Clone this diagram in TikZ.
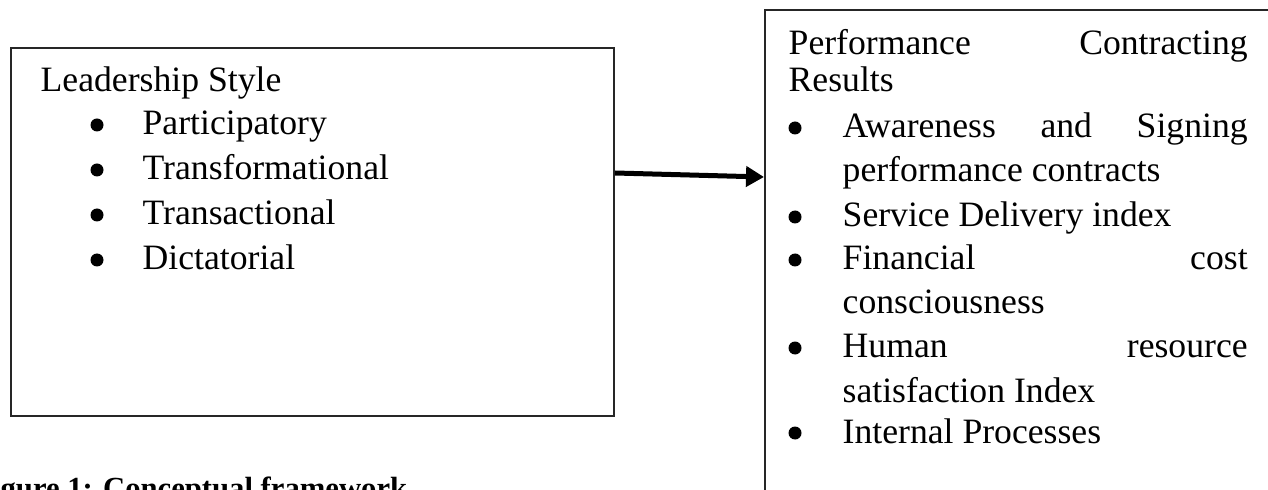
\documentclass[tikz,border=0pt]{standalone}
\usepackage{fontspec}
\setmainfont{Liberation Serif}
\usetikzlibrary{arrows.meta,positioning}

\begin{document}
\begin{tikzpicture}[x=0.3pt,y=-0.3pt,
    frame/.style={draw=black!85, line width=0.6pt, inner sep=0pt, anchor=north west},
    txt/.style={anchor=base west, inner sep=0pt, font=\fontsize{10.7}{13}\selectfont},
    blt/.style={circle, fill=black, inner sep=0pt, minimum size=3.9pt}]

    \useasboundingbox (0,0) rectangle (1268,490);
    \clip (0,0) rectangle (1268,490);

    % left box
    \node[frame, minimum width=180.9pt, minimum height=110.4pt] (lead) at (10,47) {};
    \node[txt] (leadtitle) at (40,92) {Leadership Style};
    \foreach \t [count=\i] in {Participatory,Transformational,Transactional,Dictatorial} {
        \node[blt] (lb\i) at (97,{125+45*(\i-1)}) {};
        \node[txt] (li\i) at (142,{135+45*(\i-1)}) {\t};
    }

    % right box (runs off the page)
    \node[frame, minimum width=165pt, minimum height=165pt] (res) at (764,9) {};
    \node[txt] (restitle) at (788,55) {\makebox[137.7pt][s]{Performance Contracting}};
    \node[txt] (restitle2) at (788,92) {Results};

    \foreach \y [count=\i] in {138,227,270,358,443}
        \node[blt] (rb\i) at (795,\y-10) {};

    \node[txt] (r1) at (842,138) {\makebox[121.5pt][s]{Awareness and Signing}};
    \node[txt] (r1b) at (842,182) {performance contracts};
    \node[txt] (r2) at (842,227) {Service Delivery index};
    \node[txt] (r3) at (842,270) {\makebox[121.5pt][s]{Financial cost}};
    \node[txt] (r3b) at (842,314) {consciousness};
    \node[txt] (r4) at (842,358) {\makebox[121.5pt][s]{Human resource}};
    \node[txt] (r4b) at (842,402) {satisfaction Index};
    \node[txt] (r5) at (842,443) {Internal Processes};

    % arrow
    \path (lead.north east) ++(0,126) coordinate (from);
    \path (res.north west) ++(0,168) coordinate (to);
    \draw[line width=1.5pt, -{Triangle[length=5.4pt,width=6pt]}] (from) -- (to);

    % caption, cut at the bottom
    \node[anchor=base west, inner sep=0pt, font=\fontsize{9.2}{11}\selectfont\bfseries] (cap) at (0,498) {gure 1: Conceptual framework};

\end{tikzpicture}
\end{document}
